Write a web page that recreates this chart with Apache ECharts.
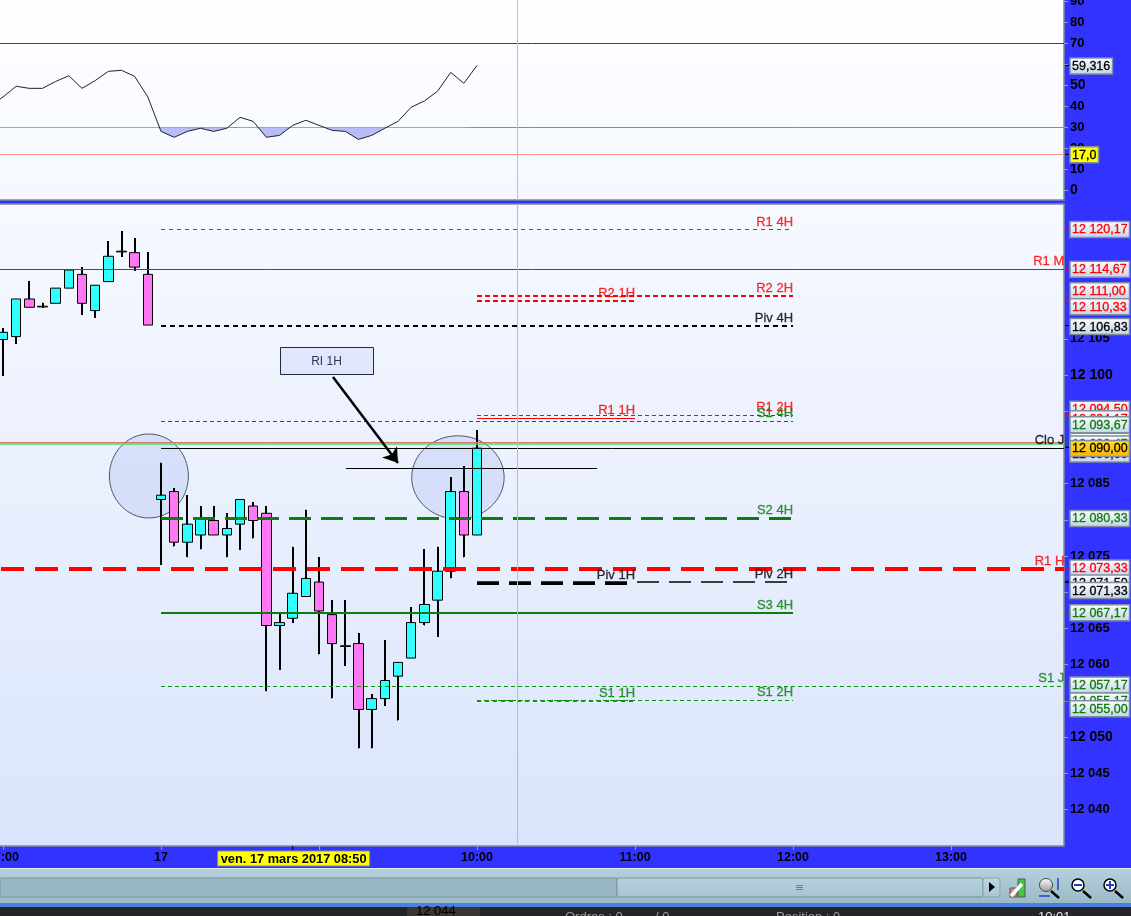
<!DOCTYPE html>
<html><head><meta charset="utf-8">
<style>html,body{margin:0;padding:0;background:#3333ff;overflow:hidden}#c{width:1131px;height:916px}</style>
<script src="https://cdn.jsdelivr.net/npm/echarts@6/dist/echarts.min.js"></script>
</head><body><div id="c"></div>
<script>
// ---------- data ----------
// minutes relative to 08:00 on 17 March 2017
const candleTimes = [-60,-55,-50,-45,-40,-35,-30,-25,-20,-15,-10,-5,0,5,10,15,20,25,30,35,40,45,50,55,60,65,70,75,80,85,90,95,100,105,110,115,120];
const opens  = [12104.9,12105.3,12110.5,12109.5,12109.9,12112.0,12113.9,12108.9,12112.9,12117.1,12116.9,12113.9,12082.8,12083.9,12076.9,12077.9,12079.9,12077.9,12079.4,12081.9,12080.9,12065.4,12066.4,12069.4,12071.4,12066.9,12062.6,12062.9,12053.8,12055.3,12058.4,12060.9,12065.8,12068.9,12072.9,12083.9,12077.9];
const closes = [12105.9,12110.5,12109.35,12109.4,12112.0,12114.5,12109.9,12112.4,12116.4,12117.0,12114.9,12106.9,12083.4,12076.9,12079.4,12080.2,12077.9,12078.8,12082.8,12079.9,12065.4,12065.8,12069.85,12071.9,12067.4,12062.9,12062.5,12053.8,12055.3,12057.8,12060.3,12065.8,12068.3,12072.9,12083.9,12077.9,12089.9];
const lows   = [12099.9,12104.3,12109.35,12109.3,12109.9,12112.0,12108.3,12107.9,12112.9,12116.3,12114.4,12106.9,12073.8,12076.3,12074.8,12075.9,12077.9,12074.8,12075.9,12077.4,12056.3,12059.3,12065.8,12069.4,12061.4,12055.3,12059.85,12048.4,12048.4,12054.3,12052.25,12060.9,12065.4,12063.9,12071.9,12074.8,12077.9];
const highs  = [12106.5,12110.5,12113.0,12110.0,12112.0,12114.5,12114.9,12112.4,12118.5,12119.9,12118.9,12117.0,12087.9,12084.35,12083.4,12081.9,12081.9,12080.9,12082.8,12082.4,12081.9,12067.0,12076.3,12081.4,12074.8,12068.9,12068.9,12064.3,12055.9,12063.4,12060.3,12067.9,12075.9,12076.3,12085.9,12087.4,12092.4];

const rsiTimes  = [-65,-60,-55,-50,-45,-40,-35,-30,-25,-20,-15,-10,-5,0,5,10,15,20,25,30,35,40,45,50,55,60,65,70,75,80,85,90,95,100,105,110,115,120];
const rsiValues = [40.0,44.3,49.4,48.4,48.4,51.7,54.4,48.4,52.1,56.5,57.0,54.1,44.3,27.9,25.1,27.9,29.4,27.9,29.4,34.6,32.7,25.1,26.0,30.8,33.2,30.8,28.4,27.9,24.1,26.0,29.4,32.7,39.4,42.4,47.0,56.0,50.8,59.316];
const rsiLevels = [70,30,17];
const rsiTicks = [0,10,20,30,40,50,60,70,80,90];

const priceTicks = [12040,12045,12050,12055,12060,12065,12070,12075,12080,12085,12090,12095,12100,12105];
const timeTicks = [-60,0,60,120,180,240,300];
const timeTickLabels = ['07:00','17','09:00','10:00','11:00','12:00','13:00'];

const levelNames  = ['R1 4H','R1 M','R2 2H','R2 1H','Piv 4H','R1 2H','R1 1H','S1 4H','','','Clo J','','S2 4H','R1 H','Piv 2H','Piv 1H','S3 4H','S1 J','S1 2H','S1 1H'];
const levelPrices = [12120.17,12114.67,12111.00,12110.33,12106.83,12094.50,12094.17,12093.67,12090.85,12090.47,12090.00,12087.15,12080.33,12073.33,12071.50,12071.33,12067.17,12057.17,12055.17,12055.00];
const levelStarts = [0,-62,120,120,0,120,120,0,-62,-62,0,70.25,0,-60.76,120,120,0,0,120,120];
const levelEnds   = [240,343,240,180,240,240,180,240,343,343,343,165.6,240,343,240,180,240,343,240,180];

const tagPrices = [12120.17,12114.67,12111.00,12110.33,12106.83,12094.50,12094.17,12093.67,12090.85,12090.47,12090.00,12090.00,12080.33,12073.33,12071.50,12071.33,12067.17,12057.17,12055.17,12055.00];
const tagTexts  = ['12 120,17','12 114,67','12 111,00','12 110,33','12 106,83','12 094,50','12 094,17','12 093,67','12 090,85','12 090,47','12 090,00','12 090,00','12 080,33','12 073,33','12 071,50','12 071,33','12 067,17','12 057,17','12 055,17','12 055,00'];
const tagKinds  = ['r','r','r','r','k','r','r','g','g','g','k','y','g','r','k','k','g','g','g','g'];

const cursorTime = 135.2;
const cursorLabel = 'ven. 17 mars 2017 08:50';
const cursorBarTime = 50;

const noteBox = {text:'RI 1H', t0:45.2, t1:80.5, p0:12100.14, p1:12103.87};
const noteArrow = [[65.3,12099.72],[90,12087.85]];
const ellipses = [[-19.6,10.4,12080.25,12091.85],[95.2,130.3,12080.1,12091.6]];

// ---------- styles ----------
const RED='#ff0000', GRN='#0a7d0a', BLK='#000000';
const levelStyles = [
 {c:'#e01818',w:1,d:[4,4],lc:RED},{c:'#d01414',w:1,d:'solid',lc:RED},{c:RED,w:2,d:[5,3],lc:RED},{c:RED,w:2,d:[5,3],lc:RED},
 {c:BLK,w:2,d:[5,4],lc:BLK},{c:RED,w:1,d:[4,3],lc:RED},{c:RED,w:1,d:'solid',lc:RED},{c:'#107010',w:1,d:[4,3],lc:GRN},
 {c:'#cc7777',w:1,d:'solid'},{c:'#55d855',w:1.5,d:'solid'},{c:BLK,w:1,d:'solid',lc:BLK},{c:BLK,w:1,d:'solid'},
 {c:GRN,w:3,d:[22,10],lc:GRN},{c:RED,w:4,d:[23,11],lc:RED},{c:BLK,w:1.5,d:[22,10],lc:BLK},{c:BLK,w:3,d:[22,10],lc:BLK},
 {c:GRN,w:2,d:'solid',lc:GRN},{c:'#0a960a',w:1,d:[4,3],lc:GRN},{c:'#0a960a',w:1,d:[4,3],lc:GRN},{c:'#0a960a',w:2,d:[4,4],lc:GRN}
];
const rsiLevelColors = ['#3030e0','#f06060','#ff9090'];
const tagTextColors = {r:'#ff0000',g:'#0a7d0a',k:'#000000',y:'#000000'};
const FONT='"Liberation Sans",Arial,sans-serif';
const grad=(a,b)=>({type:'linear',x:0,y:0,x2:0,y2:1,colorStops:[{offset:0,color:a},{offset:1,color:b}]});
const fmtPrice=v=>String(v).slice(0,2)+' '+String(v).slice(2);

const xMin=-61.9, xMax=342.9, pMin=12034.94, pMax=12123.62, rMin=-4.76, rMax=90.95;
const G0={top:-1,h:201,off:0.1}, G1={top:204,h:642,off:0.45}, GX={left:-2,w:1066};

// drawing helper: nudge a level to a whole pixel row so thin lines stay crisp, as in the platform
function snap(v,lo,hi,g,w){
  const y=g.top+g.h*(hi-v)/(hi-lo)+g.off;
  const s=Math.round(w)%2?Math.round(y)+0.5:Math.round(y);
  return hi-(s-g.top)*(hi-lo)/g.h;
}
function snapT(t){
  const x=GX.left+GX.w*(t-xMin)/(xMax-xMin);
  return xMin+(Math.floor(x)+0.5-GX.left)*(xMax-xMin)/GX.w;
}

// helper: part of the RSI under 30, for the filled area
const below=[];
rsiTimes.forEach((t,i)=>{
  const v=rsiValues[i];
  if(i>0){const u=rsiValues[i-1],s=rsiTimes[i-1];
    if((u-30)*(v-30)<0) below.push([s+(30-u)/(v-u)*(t-s),30]);}
  below.push([t,Math.min(v,30)]);
});

const candleData=candleTimes.map((t,i)=>[t,opens[i],closes[i],lows[i],highs[i]]);

const series=[];
// RSI pane
rsiLevels.forEach((v,i)=>{const sv=snap(v,rMin,rMax,G0,1);
  series.push({type:'line',xAxisIndex:0,yAxisIndex:0,symbol:'none',silent:true,z:2,
  data:[[xMin,sv],[xMax,sv]],lineStyle:{color:rsiLevelColors[i],width:1}});});
series.push({type:'line',name:'RSI zone',xAxisIndex:0,yAxisIndex:0,symbol:'none',silent:true,z:3,data:below,
  lineStyle:{width:0},areaStyle:{origin:snap(30,rMin,rMax,G0,1),color:'#b8bcf8',opacity:1}});
series.push({type:'line',name:'RSI',xAxisIndex:0,yAxisIndex:0,symbol:'none',silent:true,z:4,
  data:rsiTimes.map((t,i)=>[t,rsiValues[i]]),lineStyle:{color:'#222222',width:1}});
series.push({type:'line',xAxisIndex:0,yAxisIndex:0,symbol:'none',silent:true,z:2,
  data:[[snapT(cursorTime),rMin],[snapT(cursorTime),rMax]],lineStyle:{color:'#d8b8c0',width:1}});
series.push({type:'line',xAxisIndex:1,yAxisIndex:1,symbol:'none',silent:true,z:7,
  data:[[snapT(cursorTime),pMin],[snapT(cursorTime),pMax]],lineStyle:{color:'#e8a8ac',width:1}});
// ellipses
series.push({type:'custom',xAxisIndex:1,yAxisIndex:1,silent:true,z:3,data:ellipses,
  encode:{x:[0,1],y:[2,3]},
  renderItem(p,api){
    const a=api.coord([api.value(0),api.value(3)]),b=api.coord([api.value(1),api.value(2)]);
    return {type:'ellipse',shape:{cx:(a[0]+b[0])/2,cy:(a[1]+b[1])/2,rx:(b[0]-a[0])/2,ry:(b[1]-a[1])/2},
      style:{fill:'rgba(196,210,248,0.55)',stroke:'#505868',lineWidth:1}};
  }});
// candles: heavy wicks, then bodies
series.push({type:'custom',name:'wicks',xAxisIndex:1,yAxisIndex:1,silent:true,z:4,data:candleData,clip:true,
  encode:{x:0,y:[3,4]},
  renderItem(p,api){
    const a=api.coord([api.value(0),api.value(4)]),b=api.coord([api.value(0),api.value(3)]);
    return {type:'rect',shape:{x:Math.round(a[0])-1,y:Math.round(a[1]),width:2,height:Math.round(b[1]-a[1])},style:{fill:BLK}};
  }});
series.push({type:'candlestick',name:'bodies',xAxisIndex:1,yAxisIndex:1,silent:true,z:5,data:candleData,
  encode:{x:0,y:[1,2,3,4]},barWidth:10,
  itemStyle:{color:'#33ffff',color0:'#ff77f5',borderColor:BLK,borderColor0:BLK,borderWidth:1,borderColorDoji:BLK}});
// level lines
levelNames.forEach((n,i)=>{const s=levelStyles[i],p=snap(levelPrices[i],pMin,pMax,G1,s.w);
  series.push({type:'line',name:n||('level'+i),xAxisIndex:1,yAxisIndex:1,symbol:'none',silent:true,z:6,
    data:[[levelStarts[i],p],[levelEnds[i],p]],
    lineStyle:{color:s.c,width:s.w,type:s.d}});
});
// level names
series.push({type:'scatter',xAxisIndex:1,yAxisIndex:1,silent:true,z:8,symbolSize:1,itemStyle:{color:'rgba(0,0,0,0)'},
  clip:false,
  data:levelNames.map((n,i)=>n?{name:n,value:[levelEnds[i],levelPrices[i]],label:{color:levelStyles[i].lc,textBorderColor:levelStyles[i].lc}}:null).filter(Boolean),
  label:{show:true,position:'top',align:'right',distance:0,offset:[0,0],formatter:'{b}',fontFamily:FONT,fontSize:13,textBorderWidth:0.3}});
// note box + arrow
series.push({type:'custom',xAxisIndex:1,yAxisIndex:1,silent:true,z:8,
  data:[[noteBox.t0,noteBox.t1,noteBox.p0,noteBox.p1]],encode:{x:[0,1],y:[2,3]},
  renderItem(p,api){
    const a=api.coord([api.value(0),api.value(3)]),b=api.coord([api.value(1),api.value(2)]);
    const x=Math.floor(a[0])+0.5,y=Math.round(a[1])+0.5;
    return {type:'group',children:[
      {type:'rect',shape:{x:x,y:y,width:Math.round(b[0]-a[0]),height:Math.round(b[1]-a[1])},style:{fill:'#e0e6fb',stroke:'#20284a',lineWidth:1}},
      {type:'text',style:{text:noteBox.text,x:(a[0]+b[0])/2,y:(a[1]+b[1])/2+1,align:'center',verticalAlign:'middle',fill:'#33305a',font:'12px '+FONT}}
    ]};
  }});
series.push({type:'lines',coordinateSystem:'cartesian2d',xAxisIndex:1,yAxisIndex:1,silent:true,z:8,
  data:[{coords:noteArrow}],symbol:['none','arrow'],symbolSize:[0,14],lineStyle:{color:BLK,width:2.5,opacity:1}});
// price tags
function tagBox(x,y,w,kind,txt,font){
  const fill=kind==='y'?grad('#ffdd22','#ffb400'):kind==='Y'?'#ffff00':grad('#ffffff','#c4d2e8');
  const col=tagTextColors[kind]||'#000';
  return [
    {type:'rect',shape:{x:x,y:y-8,width:w,height:16},style:{fill:fill,stroke:'#7f8ea0',lineWidth:1.5}},
    {type:'text',style:{text:txt,x:x+2,y:y+0.5,align:'left',verticalAlign:'middle',fill:col,stroke:col,lineWidth:0.3,font:font}}
  ];
}
const nudges=[0.5,0.5,-4.5,6.5,1,-5.5,1.5,4,0,0,6.6,1,1,0,1.7,8,0,0,1.4,8];
const orderTags=[0,1,2,3,4,5,6,7,8,9,10,11,12,13,14,15,16,17,18,19];
series.push({type:'custom',xAxisIndex:1,yAxisIndex:1,silent:true,z:20,
  data:orderTags.map(i=>[xMax,tagPrices[i],i]),encode:{x:0,y:1},
  renderItem(p,api){
    const i=api.value(2),c=api.coord([xMax,api.value(1)]);
    const k=tagKinds[i],y=c[1];
    return {type:'group',children:[
      {type:'line',shape:{x1:c[0]+1,y1:y,x2:c[0]+5,y2:y},style:{stroke:tagTextColors[k]||BLK,lineWidth:1}},
      ...tagBox(c[0]+6,y+nudges[i],59.5,k,tagTexts[i],'12.5px '+FONT)
    ]};
  }});
series.push({type:'custom',xAxisIndex:0,yAxisIndex:0,silent:true,z:20,
  data:[[xMax,17],[xMax,59.316]],encode:{x:0,y:1},
  renderItem(p,api){
    const v=api.value(1),c=api.coord([xMax,v]);
    const isCur=v>50;
    return {type:'group',children:[
      {type:'line',shape:{x1:c[0]+1,y1:c[1],x2:c[0]+5,y2:c[1]},style:{stroke:BLK,lineWidth:1}},
      ...tagBox(c[0]+6,c[1]+0.5,isCur?42.5:28.5,isCur?'k':'Y',isCur?'59,316':'17,0','12.5px '+FONT)
    ]};
  }});
// cursor date tag
series.push({type:'custom',xAxisIndex:1,yAxisIndex:1,silent:true,z:20,
  data:[[cursorBarTime,pMin]],encode:{x:0,y:1},
  renderItem(p,api){
    const c=api.coord([api.value(0),pMin]);
    return {type:'group',children:[
      {type:'line',shape:{x1:c[0],y1:c[1],x2:c[0],y2:c[1]+4},style:{stroke:BLK,lineWidth:1}},
      {type:'rect',shape:{x:c[0]-75,y:c[1]+5,width:152,height:15},style:{fill:'#ffff00',stroke:'#7f8ea0',lineWidth:1}},
      {type:'text',style:{text:cursorLabel,x:c[0]+1,y:c[1]+13,align:'center',verticalAlign:'middle',fill:BLK,font:'bold 12.8px '+FONT}}
    ]};
  }});

const tickStyle={show:true,length:4,lineStyle:{color:'#8fa3b5',width:1}};
const noLine={show:false,onZero:false};
const option={
  animation:false,backgroundColor:'#3333ff',
  grid:[
    {left:GX.left,right:67,top:G0.top,height:G0.h,show:true,outerBoundsMode:'none',containLabel:false,borderColor:'#7f8c9a',borderWidth:1.5,backgroundColor:grad('#ffffff','#f4f8ff')},
    {left:GX.left,right:67,top:G1.top,height:G1.h,show:true,outerBoundsMode:'none',containLabel:false,borderColor:'#7f8c9a',borderWidth:1.5,backgroundColor:grad('#f6f9ff','#dae4fb')}
  ],
  xAxis:[
    {type:'value',gridIndex:0,min:xMin,max:xMax,show:false,axisLine:noLine},
    {type:'value',gridIndex:1,min:xMin,max:xMax,splitLine:{show:false},axisLine:noLine,
     axisTick:{...tickStyle,customValues:timeTicks},
     axisLabel:{customValues:timeTicks,margin:5,color:BLK,fontFamily:FONT,fontSize:12.5,fontWeight:'bold',
       formatter:v=>timeTickLabels[timeTicks.indexOf(v)]||''}}
  ],
  yAxis:[
    {type:'value',gridIndex:0,position:'right',min:rMin,max:rMax,splitLine:{show:false},axisLine:noLine,
     axisTick:{...tickStyle,customValues:rsiTicks},
     axisLabel:{customValues:rsiTicks,margin:6,color:BLK,fontFamily:FONT,fontSize:13,fontWeight:'bold',
       formatter:v=>v%50===0?'{b|'+v+'}':String(v),rich:{b:{fontFamily:FONT,fontSize:14,fontWeight:'bold',color:BLK}}}},
    {type:'value',gridIndex:1,position:'right',min:pMin,max:pMax,splitLine:{show:false},axisLine:noLine,
     axisTick:{...tickStyle,customValues:priceTicks},
     axisLabel:{customValues:priceTicks,margin:6,color:BLK,fontFamily:FONT,fontSize:13,fontWeight:'bold',
       formatter:v=>v%50===0?'{b|'+fmtPrice(v)+'}':fmtPrice(v),rich:{b:{fontFamily:FONT,fontSize:14,fontWeight:'bold',color:BLK}}}}
  ],
  series:series,
  graphic:{elements:[
    {type:'rect',silent:true,z:30,shape:{x:0,y:868,width:1131,height:36},style:{fill:grad('#b4d0dc','#9cbac6')}},
    {type:'rect',silent:true,z:30,shape:{x:0,y:868,width:1131,height:1},style:{fill:'#dfeaf0'}},
    {type:'rect',silent:true,z:31,shape:{x:0,y:878,width:617,height:19},style:{fill:'#9ab8c4',stroke:'#7d929c',lineWidth:1}},
    {type:'rect',silent:true,z:31,shape:{x:617,y:878,width:366,height:19,r:2},style:{fill:grad('#b8d2de','#a6c4d2'),stroke:'#7d929c',lineWidth:1}},
    {type:'rect',silent:true,z:31,shape:{x:983,y:878,width:17,height:19,r:3},style:{fill:grad('#c0d8e2','#a6c4d2'),stroke:'#8ea2ac',lineWidth:1}},
    {type:'polygon',silent:true,z:32,shape:{points:[[989,882],[989,892],[995,887]]},style:{fill:'#000'}},
    {type:'rect',silent:true,z:32,shape:{x:796,y:885,width:7,height:1},style:{fill:'#66808c'}},
    {type:'rect',silent:true,z:32,shape:{x:796,y:887,width:7,height:1},style:{fill:'#66808c'}},
    {type:'rect',silent:true,z:32,shape:{x:796,y:889,width:7,height:1},style:{fill:'#66808c'}},
    // settings icon
    {type:'rect',silent:true,z:32,shape:{x:1010,y:888,width:7,height:9},style:{fill:'#e08080',stroke:'#555',lineWidth:1}},
    {type:'rect',silent:true,z:32,shape:{x:1018,y:879,width:7,height:18},style:{fill:'#46c846',stroke:'#555',lineWidth:1}},
    {type:'line',silent:true,z:33,shape:{x1:1011,y1:896,x2:1022,y2:884},style:{stroke:'#fff',lineWidth:3.5}},
    // zoom icons
    {type:'line',silent:true,z:32,shape:{x1:1051,y1:891,x2:1059,y2:898},style:{stroke:'#000',lineWidth:2.5}},
    {type:'circle',silent:true,z:33,shape:{cx:1046,cy:885,r:6.5},style:{fill:grad('#ffffff','#9a9a9a'),stroke:'#444',lineWidth:1}},
    {type:'line',silent:true,z:32,shape:{x1:1058,y1:878,x2:1058,y2:890},style:{stroke:'#1a40e0',lineWidth:1.5}},
    {type:'line',silent:true,z:32,shape:{x1:1039,y1:896,x2:1050,y2:896},style:{stroke:'#1a40e0',lineWidth:1.5}},
    {type:'line',silent:true,z:32,shape:{x1:1083,y1:891,x2:1091,y2:898},style:{stroke:'#000',lineWidth:2.5}},
    {type:'circle',silent:true,z:33,shape:{cx:1078,cy:885,r:6},style:{fill:'#fff',stroke:'#000',lineWidth:1.5}},
    {type:'line',silent:true,z:34,shape:{x1:1074,y1:885,x2:1082,y2:885},style:{stroke:'#1a40e0',lineWidth:2}},
    {type:'line',silent:true,z:32,shape:{x1:1115,y1:891,x2:1123,y2:898},style:{stroke:'#000',lineWidth:2.5}},
    {type:'circle',silent:true,z:33,shape:{cx:1110,cy:885,r:6},style:{fill:'#fff',stroke:'#000',lineWidth:1.5}},
    {type:'line',silent:true,z:34,shape:{x1:1106,y1:885,x2:1114,y2:885},style:{stroke:'#1a40e0',lineWidth:2}},
    {type:'line',silent:true,z:34,shape:{x1:1110,y1:881,x2:1110,y2:889},style:{stroke:'#1a40e0',lineWidth:2}},
    // bottom strip
    {type:'rect',silent:true,z:30,shape:{x:0,y:903,width:1131,height:4},style:{fill:'#4a80e0'}},
    {type:'rect',silent:true,z:30,shape:{x:0,y:907,width:1131,height:9},style:{fill:'#222428'}},
    {type:'rect',silent:true,z:31,shape:{x:407,y:907,width:73,height:9},style:{fill:'#3a3632'}},
    {type:'text',silent:true,z:32,style:{text:'12 044',x:416,y:905,fill:'#000',font:'13px '+FONT}},
    {type:'text',silent:true,z:32,style:{text:'Ordres : 0',x:565,y:911,fill:'#9a9a9a',font:'13px '+FONT}},
    {type:'text',silent:true,z:32,style:{text:'/ 0',x:655,y:911,fill:'#9a9a9a',font:'13px '+FONT}},
    {type:'text',silent:true,z:32,style:{text:'Position : 0',x:776,y:911,fill:'#9a9a9a',font:'13px '+FONT}},
    {type:'text',silent:true,z:32,style:{text:'10:01',x:1038,y:911,fill:'#e8e8e8',font:'13px '+FONT}}
  ]}
};
const chart=echarts.init(document.getElementById('c'),null,{width:1131,height:916,renderer:'canvas'});
chart.setOption(option);
</script></body></html>
